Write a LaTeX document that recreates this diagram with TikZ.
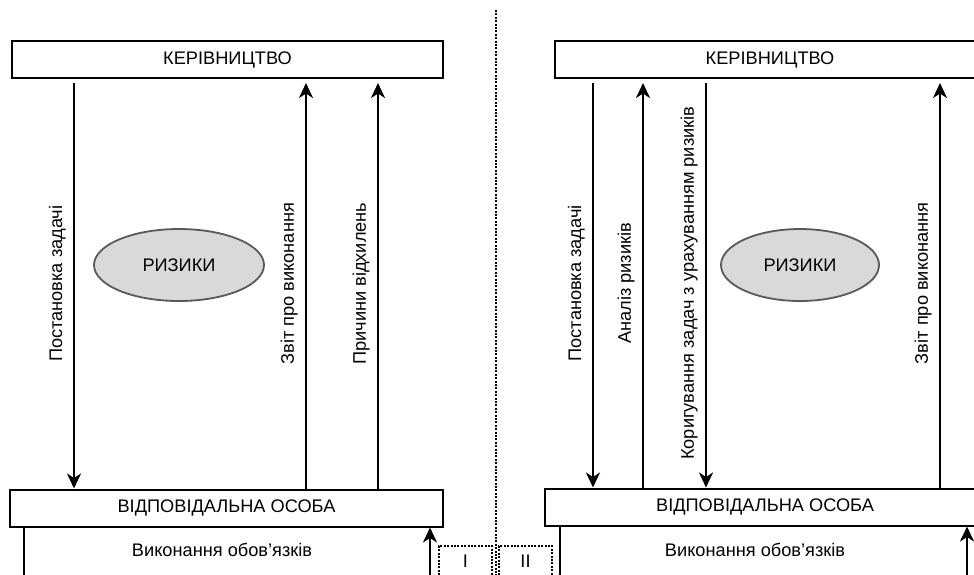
\documentclass[tikz,border=0pt]{standalone}
\usepackage{fontspec}
\setmainfont{Liberation Sans}
\usetikzlibrary{positioning,arrows.meta,shapes.geometric}

\begin{document}
\begin{tikzpicture}[
  x=1pt,y=-1pt,
  font=\fontsize{18.2}{21}\selectfont,
  >={Stealth[length=15pt,width=14pt,inset=4.5pt]},
  level/.style={draw,line width=2pt,minimum height=37pt,inner sep=0pt},
  risk/.style={draw=black!65,fill=black!15,ellipse,line width=1.8pt,inner sep=0pt},
  flow/.style={->,line width=2.5pt},
  tag/.style={midway,rotate=90,anchor=south,inner sep=0pt,inner ysep=7pt},
  zone/.style={draw,line width=2.5pt,dash pattern=on 2pt off 1.4pt,
               minimum width=53pt,minimum height=30pt,inner sep=0pt},
  divider/.style={line width=2.5pt,dash pattern=on 2pt off 1.4pt},
]
\clip[use as bounding box] (0,0) rectangle (974,574);
\coordinate (floor) at (0,578);
% ---------- scheme I (left) ----------
\node[level,minimum width=431pt] (top1) at (227.5,59.5) {КЕРІВНИЦТВО};
\node[level,minimum width=433pt] (bot1) at (226.5,508) {ВІДПОВІДАЛЬНА ОСОБА};
\node[risk,minimum width=170pt,minimum height=72pt] (risk1) at (179,265) {РИЗИКИ};
\node (duty1) at (222,550) {Виконання обов’язків};
% ---------- scheme II (right) ----------
\node[level,minimum width=430pt] (top2) at (770,59.5) {КЕРІВНИЦТВО};
\node[level,minimum width=440pt] (bot2) at (765,507) {ВІДПОВІДАЛЬНА ОСОБА};
\node[risk,minimum width=158pt,minimum height=72pt] (risk2) at (800,265) {РИЗИКИ};
\node (duty2) at (755,550) {Виконання обов’язків};
% ---------- divider and scheme marks ----------
\draw[divider] (496,10) -- (floor -| 496,0);
\node[zone] (zone1) at (465.5,561) {I};
\node[zone] (zone2) at (525.5,561) {II};
% =================== edges ===================
% left
\draw[flow,shorten <=4pt] (top1.south -| 74,0) -- node[tag]{Постановка задачі} (bot1.north -| 74,0);
\draw[flow,shorten >=4pt] (bot1.north -| 306,0) -- node[tag]{Звіт про виконання} (top1.south -| 306,0);
\draw[flow,shorten >=4pt] (bot1.north -| 378,0) -- node[tag]{Причини відхилень} (top1.south -| 378,0);
\draw[line width=2.5pt] (bot1.south -| 24,0) -- (floor -| 24,0);
\draw[flow] (floor -| 430,0) -- (bot1.south -| 430,0);
% right
\draw[flow,shorten <=4pt] (top2.south -| 593,0) -- node[tag]{Постановка задачі} (bot2.north -| 593,0);
\draw[flow,shorten >=4pt] (bot2.north -| 643,0) -- node[tag]{Аналіз ризиків} (top2.south -| 643,0);
\draw[flow,shorten <=4pt] (top2.south -| 706,0) -- node[tag]{Коригування задач з урахуванням ризиків} (bot2.north -| 706,0);
\draw[flow,shorten >=4pt] (bot2.north -| 940,0) -- node[tag]{Звіт про виконання} (top2.south -| 940,0);
\draw[line width=2.5pt] (bot2.south -| 560,0) -- (floor -| 560,0);
\draw[flow] (floor -| 967,0) -- (bot2.south -| 967,0);
\end{tikzpicture}
\end{document}
